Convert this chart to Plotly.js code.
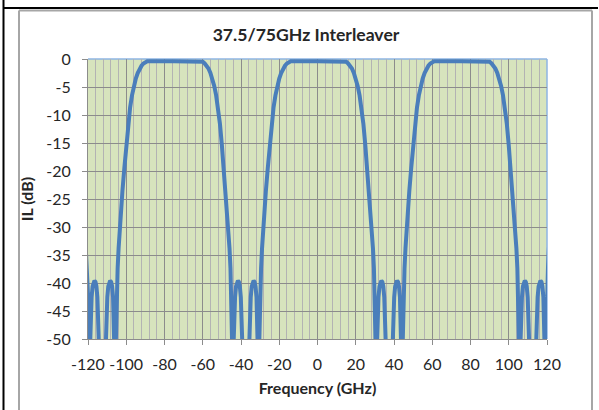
<!DOCTYPE html>
<html>
<head>
<meta charset="utf-8">
<script src="https://cdn.plot.ly/plotly-3.0.1.min.js"></script>
<style>html,body{margin:0;padding:0;background:#fff;}#chart{width:599px;height:410px;}</style>
</head>
<body>
<div id="chart"></div>
<script>
// ---- data ----
const chartTitle = "37.5/75GHz Interleaver";
const xTitle = "Frequency (GHz)";
const yTitle = "IL (dB)";
const xTickVals = [-120, -100, -80, -60, -40, -20, 0, 20, 40, 60, 80, 100, 120];
const yTickVals = [0, -5, -10, -15, -20, -25, -30, -35, -40, -45, -50];

// Frequency (GHz) and insertion loss (dB); values below -50 are off-scale nulls
const freqGHz = [
  // edge of previous passband + stopband near -112.5
  -122, -121.5, -121, -120.5, -120, -119.6, -119.2,
  -118.8, -118.5, -118.1, -117.6, -117.1, -116.6, -116.1, -115.6, -115.1, -114.7, -114.4, -112.5,
  -110.6, -110.3, -109.9, -109.4, -108.9, -108.4, -107.9, -107.4, -106.9, -106.5, -106.2, -105.8,
  // passband near -75
  -105.4, -105, -104.5, -104, -103.5, -103, -102, -101, -100, -99, -98, -97, -96, -95,
  -94, -93, -92, -91, -90, -89, -75, -61, -60, -59, -58, -57, -56, -55, -54, -53, -52,
  -51, -50, -49, -48, -47, -46.5, -46, -45.5, -45, -44.6, -44.2,
  // stopband near -37.5
  -43.8, -43.5, -43.1, -42.6, -42.1, -41.6, -41.1, -40.6, -40.1, -39.7, -39.4, -37.5,
  -35.6, -35.3, -34.9, -34.4, -33.9, -33.4, -32.9, -32.4, -31.9, -31.5, -31.2, -30.8,
  // passband near 0
  -30.4, -30, -29.5, -29, -28.5, -28, -27, -26, -25, -24, -23, -22, -21, -20,
  -19, -18, -17, -16, -15, -14, 0, 14, 15, 16, 17, 18, 19, 20, 21, 22, 23,
  24, 25, 26, 27, 28, 28.5, 29, 29.5, 30, 30.4, 30.8,
  // stopband near 37.5
  31.2, 31.5, 31.9, 32.4, 32.9, 33.4, 33.9, 34.4, 34.9, 35.3, 35.6, 37.5,
  39.4, 39.7, 40.1, 40.6, 41.1, 41.6, 42.1, 42.6, 43.1, 43.5, 43.8, 44.2,
  // passband near 75
  44.6, 45, 45.5, 46, 46.5, 47, 48, 49, 50, 51, 52, 53, 54, 55,
  56, 57, 58, 59, 60, 61, 75, 89, 90, 91, 92, 93, 94, 95, 96, 97, 98,
  99, 100, 101, 102, 103, 103.5, 104, 104.5, 105, 105.4, 105.8,
  // stopband near 112.5 + edge of next passband
  106.2, 106.5, 106.9, 107.4, 107.9, 108.4, 108.9, 109.4, 109.9, 110.3, 110.6, 112.5,
  114.4, 114.7, 115.1, 115.6, 116.1, 116.6, 117.1, 117.6, 118.1, 118.5, 118.8, 119.2,
  119.6, 120, 120.5, 121, 121.5, 122
];
const ilDb = [
  -28, -30.8, -33.8, -37.4, -42, -50, -58,
  -50, -45.5, -42.5, -40.6, -39.8, -39.6, -39.8, -40.6, -42.5, -45.5, -50, -70,
  -50, -45.5, -42.5, -40.6, -39.8, -39.6, -39.8, -40.6, -42.5, -45.5, -50, -58,
  -50, -42, -37.4, -33.8, -30.8, -28, -23.6, -19.5, -15.4, -11.6, -8.7, -6.5, -4.8, -3.5,
  -2.5, -1.7, -1.2, -0.8, -0.5, -0.4, -0.4, -0.4, -0.5, -0.8, -1.2, -1.7, -2.5, -3.5, -4.8, -6.5, -8.7,
  -11.6, -15.4, -19.5, -23.6, -28, -30.8, -33.8, -37.4, -42, -50, -58,
  -50, -45.5, -42.5, -40.6, -39.8, -39.6, -39.8, -40.6, -42.5, -45.5, -50, -70,
  -50, -45.5, -42.5, -40.6, -39.8, -39.6, -39.8, -40.6, -42.5, -45.5, -50, -58,
  -50, -42, -37.4, -33.8, -30.8, -28, -23.6, -19.5, -15.4, -11.6, -8.7, -6.5, -4.8, -3.5,
  -2.5, -1.7, -1.2, -0.8, -0.5, -0.4, -0.4, -0.4, -0.5, -0.8, -1.2, -1.7, -2.5, -3.5, -4.8, -6.5, -8.7,
  -11.6, -15.4, -19.5, -23.6, -28, -30.8, -33.8, -37.4, -42, -50, -58,
  -50, -45.5, -42.5, -40.6, -39.8, -39.6, -39.8, -40.6, -42.5, -45.5, -50, -70,
  -50, -45.5, -42.5, -40.6, -39.8, -39.6, -39.8, -40.6, -42.5, -45.5, -50, -58,
  -50, -42, -37.4, -33.8, -30.8, -28, -23.6, -19.5, -15.4, -11.6, -8.7, -6.5, -4.8, -3.5,
  -2.5, -1.7, -1.2, -0.8, -0.5, -0.4, -0.4, -0.4, -0.5, -0.8, -1.2, -1.7, -2.5, -3.5, -4.8, -6.5, -8.7,
  -11.6, -15.4, -19.5, -23.6, -28, -30.8, -33.8, -37.4, -42, -50, -58,
  -50, -45.5, -42.5, -40.6, -39.8, -39.6, -39.8, -40.6, -42.5, -45.5, -50, -70,
  -50, -45.5, -42.5, -40.6, -39.8, -39.6, -39.8, -40.6, -42.5, -45.5, -50, -58,
  -50, -42, -37.4, -33.8, -30.8, -28
];

// ---- layout geometry (pixels) ----
const W = 599, H = 410;
const M = {l: 88, r: 52, t: 59, b: 71};
const pw = W - M.l - M.r, ph = H - M.t - M.b;
const px = x => (x - M.l) / pw;
const py = y => (H - M.b - y) / ph;

const font = "Lato, 'Open Sans', sans-serif";

const trace = {
  x: freqGHz, y: ilDb, type: 'scatter', mode: 'lines',
  line: {color: '#4a7ebb', width: 4},
  hoverinfo: 'skip'
};

const layout = {
  width: W, height: H,
  margin: M,
  paper_bgcolor: '#ffffff',
  plot_bgcolor: '#d7e4bd',
  showlegend: false,
  font: {family: font, color: '#262626', size: 16},
  title: {
    text: '<b>' + chartTitle + '</b>',
    font: {family: font, size: 17.6, color: '#262626'},
    xref: 'container', x: 306 / W, xanchor: 'center',
    yref: 'container', y: 1 - 35 / H, yanchor: 'middle'
  },
  xaxis: {
    range: [-120, 120], tickvals: xTickVals, ticktext: xTickVals.map(String),
    showgrid: true, gridcolor: '#8c8c8c', gridwidth: 1,
    minor: {dtick: 4, tick0: -120, showgrid: true, gridcolor: '#b3b3b3', gridwidth: 1, ticks: ''},
    zeroline: false, showline: true, linecolor: '#8c8c8c', linewidth: 1,
    ticks: 'outside', ticklen: 5, tickcolor: '#8c8c8c',
    ticklabelstandoff: 6,
    tickfont: {family: font, size: 16, color: '#262626'},
    title: {text: '<b>' + xTitle + '</b>', font: {family: font, size: 16, color: '#262626'}, standoff: 10},
    fixedrange: true
  },
  yaxis: {
    range: [-50, 0], tickvals: yTickVals, ticktext: yTickVals.map(String),
    showgrid: true, gridcolor: '#8c8c8c', gridwidth: 1,
    zeroline: false, showline: true, linecolor: '#8c8c8c', linewidth: 1,
    ticks: 'outside', ticklen: 5, tickcolor: '#8c8c8c',
    ticklabelstandoff: 8,
    tickfont: {family: font, size: 16, color: '#262626'},
    title: {text: '<b>' + yTitle + '</b>', font: {family: font, size: 16, color: '#262626'}, standoff: 8},
    fixedrange: true
  },
  shapes: [
    // outer black frame lines
    {type: 'line', xref: 'paper', yref: 'paper', x0: px(3.5), x1: px(3.5), y0: py(0), y1: py(H), line: {color: '#000', width: 2}},
    {type: 'line', xref: 'paper', yref: 'paper', x0: px(3), x1: px(598), y0: py(8), y1: py(8), line: {color: '#000', width: 2}},
    // gray chart-area border
    {type: 'line', xref: 'paper', yref: 'paper', x0: px(19), x1: px(19), y0: py(10.5), y1: py(H + 2), line: {color: '#a6a6a6', width: 2}},
    {type: 'line', xref: 'paper', yref: 'paper', x0: px(19), x1: px(592), y0: py(10.5), y1: py(10.5), line: {color: '#a6a6a6', width: 2}},
    {type: 'line', xref: 'paper', yref: 'paper', x0: px(592), x1: px(592), y0: py(10.5), y1: py(H + 2), line: {color: '#a6a6a6', width: 2}},
    // light blue plot-area edges (top and right)
    {type: 'line', xref: 'paper', yref: 'paper', x0: 0, x1: 1, y0: 1, y1: 1, line: {color: '#8eb4e3', width: 1.5}, layer: 'below'},
    {type: 'line', xref: 'paper', yref: 'paper', x0: 1, x1: 1, y0: 0, y1: 1, line: {color: '#8eb4e3', width: 1.5}, layer: 'below'}
  ]
};

Plotly.newPlot('chart', [trace], layout, {staticPlot: true, displayModeBar: false});
</script>
</body>
</html>
